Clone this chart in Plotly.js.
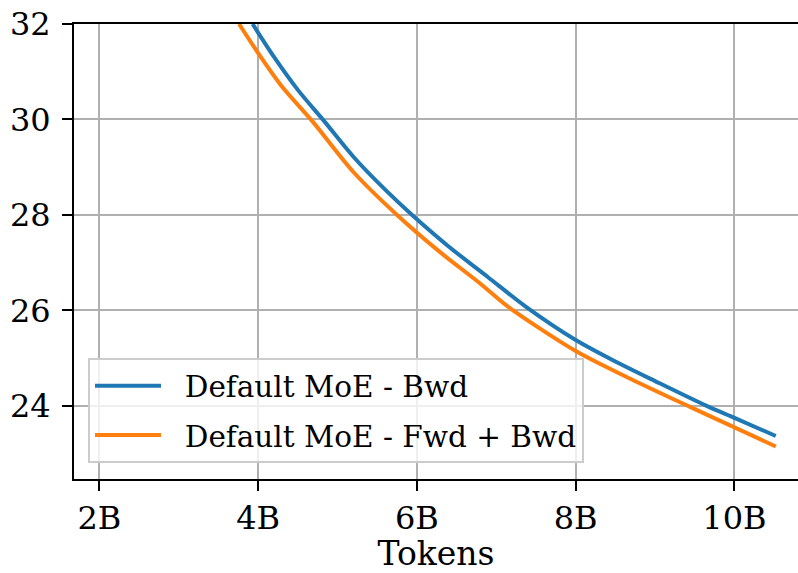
<!DOCTYPE html>
<html>
<head>
<meta charset="utf-8">
<script src="https://cdn.plot.ly/plotly-3.0.1.min.js"></script>
<style>html,body{margin:0;padding:0;background:#fff;}#chart{width:798px;height:573px;}</style>
</head>
<body>
<div id="chart"></div>
<script>
const bwdTokens = [3.93, 4.2, 4.5, 4.84, 5.2, 5.6, 5.94, 6.4, 6.9, 7.37, 8.0, 8.5, 9.0, 9.65, 10.0, 10.52];
const bwdLoss   = [32.0, 31.31, 30.62, 29.95, 29.22, 28.53, 28.0, 27.34, 26.69, 26.08, 25.38, 24.93, 24.52, 24.0, 23.75, 23.37];
const fwdBwdTokens = [3.76, 4.0, 4.3, 4.69, 5.2, 5.75, 6.3, 6.8, 7.13, 8.0, 8.7, 9.44, 10.0, 10.52];
const fwdBwdLoss   = [32.0, 31.39, 30.69, 29.95, 28.9, 28.0, 27.21, 26.56, 26.1, 25.15, 24.56, 23.98, 23.55, 23.15];
const xTickVals = [2, 4, 6, 8, 10];
const xTickText = ['2B', '4B', '6B', '8B', '10B'];
const yTickVals = [24, 26, 28, 30, 32];
const seriesNames = ['Default MoE - Bwd', 'Default MoE - Fwd + Bwd'];

const font = {family: 'DejaVu Serif', size: 32, color: '#000'};
const legendFont = {family: 'DejaVu Serif', size: 29.5, color: '#000'};
const traces = [
  {x: bwdTokens, y: bwdLoss, name: '&nbsp;&nbsp;' + seriesNames[0], legendgroup: 'a', mode: 'lines', line: {color: '#1f77b4', width: 4, shape: 'spline', smoothing: 0.8}},
  {x: fwdBwdTokens, y: fwdBwdLoss, name: '&nbsp;&nbsp;' + seriesNames[1], legendgroup: 'b', mode: 'lines', line: {color: '#ff7f0e', width: 4, shape: 'spline', smoothing: 0.8}}
];
const layout = {
  width: 798, height: 573,
  margin: {l: 74, r: 0, t: 24, b: 94},
  paper_bgcolor: '#fff', plot_bgcolor: '#fff',
  font: font,
  showlegend: true,
  xaxis: {
    range: [1.681, 10.80], tickvals: xTickVals, ticktext: xTickText,
    showgrid: true, gridcolor: '#b0b0b0', gridwidth: 2,
    showline: true, linecolor: '#000', linewidth: 2, mirror: true,
    ticks: 'outside', ticklen: 10, tickwidth: 2, tickcolor: '#000',
    zeroline: false, tickfont: font, automargin: true,
    title: {text: 'Tokens', font: {family: 'DejaVu Serif', size: 33, color: '#000'}, standoff: 10}
  },
  yaxis: {
    range: [22.469, 32.0], tickvals: yTickVals,
    showgrid: true, gridcolor: '#b0b0b0', gridwidth: 2,
    showline: true, linecolor: '#000', linewidth: 2,
    ticks: 'outside', ticklen: 10, tickwidth: 2, tickcolor: '#000',
    zeroline: false, tickfont: font, ticklabelstandoff: 5
  },
  legend: {
    x: 0.0193, y: 0.035, xanchor: 'left', yanchor: 'bottom',
    bgcolor: 'rgba(255,255,255,0.8)', bordercolor: '#cccccc', borderwidth: 2,
    font: legendFont, tracegroupgap: 8, itemwidth: 66
  }
};
Plotly.newPlot('chart', traces, layout, {displayModeBar: false, staticPlot: true});
</script>
</body>
</html>
